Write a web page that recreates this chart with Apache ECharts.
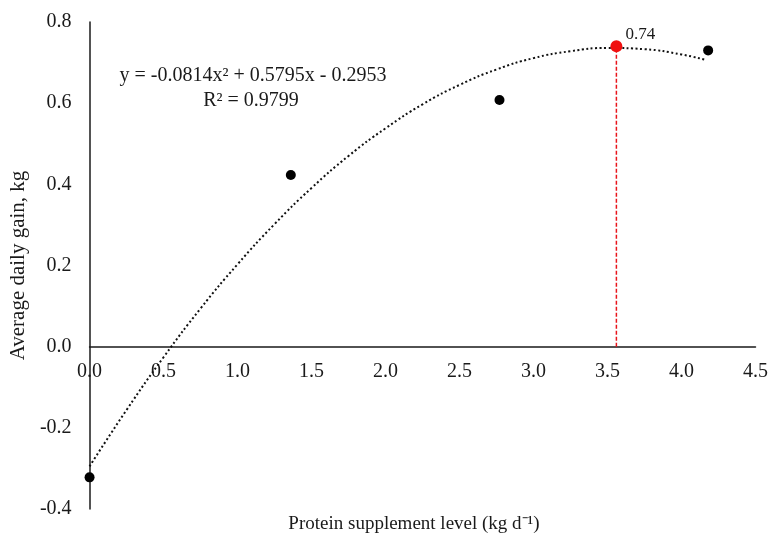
<!DOCTYPE html>
<html>
<head>
<meta charset="utf-8">
<script src="https://cdn.jsdelivr.net/npm/echarts@6/dist/echarts.min.js"></script>
<style>html,body{margin:0;padding:0;background:#fff}#c{width:771px;height:533px}</style>
</head>
<body>
<div id="c"></div>
<script>
// Observed data points
const obsX = [0, 1.36, 2.77, 4.18];
const obsY = [-0.322, 0.423, 0.608, 0.730];
// Optimum point (red)
const optX = 3.56;
const optY = 0.74;
const optLabel = '0.74';
// Trendline
const trendX = [0, 0.25, 0.5, 0.75, 1.0, 1.25, 1.5, 1.75, 2.0, 2.25, 2.5, 2.75, 3.0, 3.25, 3.5, 3.75, 4.0, 4.17];
const trendY = [-0.295, -0.156, -0.026, 0.094, 0.203, 0.302, 0.391, 0.470, 0.538, 0.597, 0.645, 0.683, 0.711, 0.728, 0.736, 0.733, 0.720, 0.706];
// Axis settings
const xMin = 0, xMax = 4.5, xStep = 0.5;
const yMin = -0.4, yMax = 0.8, yStep = 0.2;
const xName = 'Protein supplement level (kg d⁻¹)';
const yName = 'Average daily gain, kg';
const eqLine1 = 'y = -0.0814x² + 0.5795x - 0.2953';
const eqLine2 = 'R² = 0.9799';

const FONT = '"Liberation Serif", "Times New Roman", serif';
const TXT = '#1a1a1a';
const GRID_TOP = 22, GRID_BOTTOM = 24, H = 533;

const chart = echarts.init(document.getElementById('c'), null, {renderer: 'canvas'});
// distance (px) from the bottom of the grid up to the y = 0 line
const plotH = H - GRID_TOP - GRID_BOTTOM;
const zeroShift = plotH * (0 - yMin) / (yMax - yMin);

chart.setOption({
  animation: false,
  backgroundColor: '#fff',
  grid: {left: 89, right: 12, top: GRID_TOP, bottom: GRID_BOTTOM, containLabel: false},
  xAxis: {
    type: 'value', min: xMin, max: xMax, interval: xStep,
    position: 'bottom', offset: -zeroShift,
    axisLine: {onZero: false, lineStyle: {color: '#1a1a1a', width: 1.5}},
    axisTick: {show: false},
    splitLine: {show: false},
    axisLabel: {fontFamily: FONT, fontSize: 20, color: TXT, margin: 15,
      showMinLabel: true, showMaxLabel: true,
      formatter: v => v.toFixed(1)}
  },
  yAxis: {
    type: 'value', min: yMin, max: yMax, interval: yStep,
    name: yName, nameLocation: 'middle', nameGap: 58,
    nameTextStyle: {fontFamily: FONT, fontSize: 21, color: TXT},
    axisLine: {show: true, onZero: false, lineStyle: {color: '#1a1a1a', width: 1.5}},
    axisTick: {show: false},
    splitLine: {show: false},
    axisLabel: {fontFamily: FONT, fontSize: 20, color: TXT, margin: 18,
      formatter: v => v.toFixed(1)}
  },
  graphic: [
    {type: 'text', x: 414, y: 524, style: {text: xName, font: '19px ' + FONT, fill: TXT, textAlign: 'center', textVerticalAlign: 'middle'}},
    {type: 'text', x: 253, y: 76, style: {text: eqLine1, font: '20px ' + FONT, fill: TXT, textAlign: 'center', textVerticalAlign: 'middle'}},
    {type: 'text', x: 251, y: 101, style: {text: eqLine2, font: '20px ' + FONT, fill: TXT, textAlign: 'center', textVerticalAlign: 'middle'}}
  ],
  series: [
    {
      type: 'line', smooth: true, showSymbol: false, z: 2,
      data: trendX.map((x, i) => [x, trendY[i]]),
      lineStyle: {color: '#111', width: 2, type: [2, 2.5]}
    },
    {
      type: 'line', showSymbol: false, z: 3,
      data: [[optX, 0], [optX, optY]],
      lineStyle: {color: '#e8141b', width: 1.5, type: [4, 2]}
    },
    {
      type: 'scatter', symbolSize: 10, z: 4,
      data: obsX.map((x, i) => [x, obsY[i]]),
      itemStyle: {color: '#000', opacity: 1}
    },
    {
      type: 'scatter', symbolSize: 12, z: 5,
      data: [[optX, optY]],
      itemStyle: {color: '#f01010', opacity: 1},
      label: {show: true, position: 'right', distance: 3, offset: [0, -12],
        formatter: optLabel, fontFamily: FONT, fontSize: 17, color: TXT}
    }
  ]
});
</script>
</body>
</html>
